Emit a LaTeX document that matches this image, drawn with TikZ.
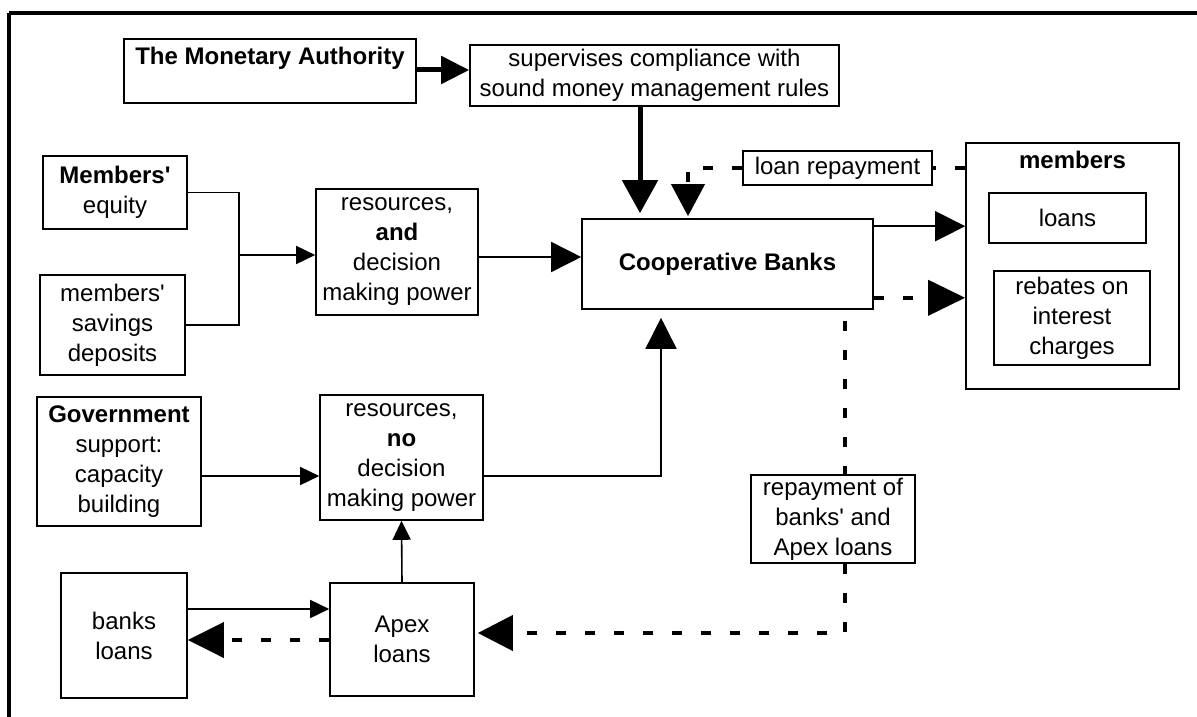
\documentclass[tikz,border=0pt]{standalone}
\usepackage{fontspec}
\setmainfont{Liberation Sans}
\usetikzlibrary{arrows.meta,calc}
\newcommand{\regfont}{\fontsize{24}{30}\selectfont}
\newcommand{\apos}{\textquotesingle}
\begin{document}
\begin{tikzpicture}[x=1pt,y=-1pt,
  box/.style={draw, line width=1.6pt, inner sep=0pt, align=center, font=\regfont},
  thin/.style={line width=1.6pt},
  thick5/.style={line width=5pt},
  dashline/.style={line width=4pt, dash pattern=on 10pt off 19pt},
  tipbig/.style={-{Triangle[length=33pt,width=34pt]}},
  tipmid/.style={-{Triangle[length=30pt,width=30pt]}},
  tipsmall/.style={-{Triangle[length=19pt,width=18pt]}}]
\useasboundingbox (0,0) rectangle (1197,717);
% frame (top and left only)
\draw[line width=3.5pt] (9,13) -- (1197,13);
\draw[line width=3.5pt] (9,13) -- (9,717);

% nodes (centre, width, height from the reference)
\node[box, minimum width=292pt, minimum height=64pt] (ma) at (270,71) {\textbf{The Monetary Authority}\\ \mbox{}};
\node[box, minimum width=369pt, minimum height=61pt] (sup) at (654.5,75.5) {supervises compliance with\\sound money management rules};
\node[box, minimum width=144pt, minimum height=73pt] (eq) at (115,192.5) {\textbf{Members\apos}\\equity};
\node[box, minimum width=145pt, minimum height=100pt] (sav) at (112.5,325) {members\apos\\savings\\deposits};
\node[box, minimum width=162pt, minimum height=126pt] (resA) at (397,252) {resources,\\\textbf{and}\\decision\\making power};
\node[box, minimum width=291pt, minimum height=90pt] (coop) at (727.5,264) {\textbf{Cooperative Banks}};
\node[box, minimum width=189pt, minimum height=34pt] (lr) at (837.5,168) {loan repayment};
\node[box, minimum width=213pt, minimum height=246pt,
      label={[font=\regfont\bfseries, anchor=north, yshift=-5pt]north:members}] (mem) at (1072.5,266) {};
\node[box, minimum width=157pt, minimum height=50pt] (loans) at (1067.5,218) {loans};
\node[box, minimum width=156pt, minimum height=94pt] (reb) at (1072,318) {rebates on\\interest\\charges};
\node[box, minimum width=164pt, minimum height=129pt] (gov) at (119,461.5) {\textbf{Government}\\support:\\capacity\\building};
\node[box, minimum width=163pt, minimum height=125pt] (resN) at (401.5,457.5) {resources,\\\textbf{no}\\decision\\making power};
\node[box, minimum width=164pt, minimum height=88pt] (rep) at (833,519) {repayment of\\banks\apos{} and\\Apex loans};
\node[box, minimum width=126pt, minimum height=125pt] (bl) at (124,635.5) {banks\\loans};
\node[box, minimum width=144pt, minimum height=113pt] (apex) at (402,639.5) {Apex\\loans};

% helper coordinates
\coordinate (j) at (239,255);
\coordinate (xs) at (640,0);
\coordinate (xr) at (688,0);
\coordinate (xc) at (845,0);
\coordinate (xu) at (661,0);
\coordinate (yg) at (0,476);
\coordinate (ya) at (0,633);
\coordinate (yb1) at (0,609);
\coordinate (yb2) at (0,640);
\coordinate (yra) at (0,257);
\coordinate (c1) at ($(coop.north east)+(0,8)$);
\coordinate (c2) at ($(coop.south east)+(0,-12)$);
\coordinate (c3) at ($(xc |- coop.south)+(0,11)$);

% Monetary Authority -> supervises
\draw[thick5, -{Triangle[length=28pt,width=27pt]}] (ma.east |- 0,70) -- (sup.west |- 0,70);
% supervises -> Cooperative Banks
\draw[thick5, -{Triangle[length=33pt,width=35pt]}, shorten >=5pt] (xs |- sup.south) -- (xs |- coop.north);

% members' equity and savings -> resources and
\draw[thin] (eq.east) -| (j);
\draw[thin] (sav.east) -| (j);
\draw[thin, tipsmall] (j) -- (j -| resA.west);
% resources and -> Cooperative Banks
\draw[thin, tipmid] (yra -| resA.east) -- (yra -| coop.west);

% loan repayment connectors
\draw[dashline] (mem.west |- lr.east) -- (lr.east);
\draw[dashline, -{Triangle[length=32pt,width=33pt]}, shorten >=2pt] (lr.west) -| (xr |- coop.north);

% Cooperative Banks -> members
\draw[thin, tipmid] (c1) -- (c1 -| mem.west);
\draw[dashline, -{Triangle[length=37pt,width=35pt]}] (c2) -- (c2 -| mem.west);

% Cooperative Banks -> repayment -> Apex
\draw[dashline] (c3) -- (xc |- rep.north);
\draw[dashline, -{Triangle[length=35pt,width=35pt]}, shorten >=3pt] (xc |- rep.south) |- (ya -| apex.east);

% Government -> resources no
\draw[thin, tipsmall] (yg -| gov.east) -- (yg -| resN.west);
% resources no -> Cooperative Banks
\draw[thin, -{Triangle[length=31pt,width=31pt]}, shorten >=8pt] (yg -| resN.east) -| (xu |- coop.south);

% Apex -> resources no
\draw[thin, tipsmall] (apex.north) -- (resN.south);
% banks loans <-> Apex
\draw[thin, tipsmall] (yb1 -| bl.east) -- (yb1 -| apex.west);
\draw[dashline, -{Triangle[length=36pt,width=35pt]}] (yb2 -| apex.west) -- (yb2 -| bl.east);
\end{tikzpicture}
\end{document}
